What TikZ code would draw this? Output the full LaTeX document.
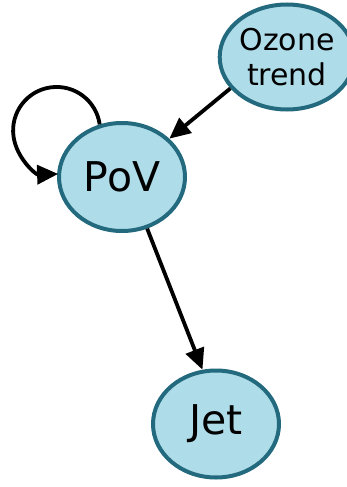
\documentclass[tikz,border=0pt]{standalone}
\usepackage{fontspec}
\setmainfont{DejaVu Sans}
\usetikzlibrary{shapes.geometric,arrows.meta}
\definecolor{nodefill}{HTML}{AEDCE8}
\definecolor{nodeline}{HTML}{236A7F}
\begin{document}
\begin{tikzpicture}[x=1pt,y=-1pt,
  var/.style={ellipse, draw=nodeline, fill=nodefill, line width=4pt,
    inner sep=0pt, align=center},
  link/.style={line width=3.8pt, -{Triangle[length=21pt,width=19pt]}}]
  \useasboundingbox (0,0) rectangle (347,487);
  \node[var, minimum width=123pt, minimum height=105pt,
        font=\fontsize{30}{35}\selectfont] (oz) at (287,57) {Ozone\\trend};
  \node[var, minimum width=126pt, minimum height=108pt,
        font=\fontsize{41}{45}\selectfont] (pov) at (122,177) {PoV};
  \node[var, minimum width=126pt, minimum height=107pt,
        font=\fontsize{41}{45}\selectfont] (jet) at (216,424) {Jet};
  \draw[link] (oz.209) -- (pov.39);
  \draw[link] (pov.-64) -- (jet.104);
  % self-loop leaving the top of PoV and coming back into its left side
  \draw[link] (pov.113) arc[start angle=-8, end angle=-272, radius=43.5];
\end{tikzpicture}
\end{document}
